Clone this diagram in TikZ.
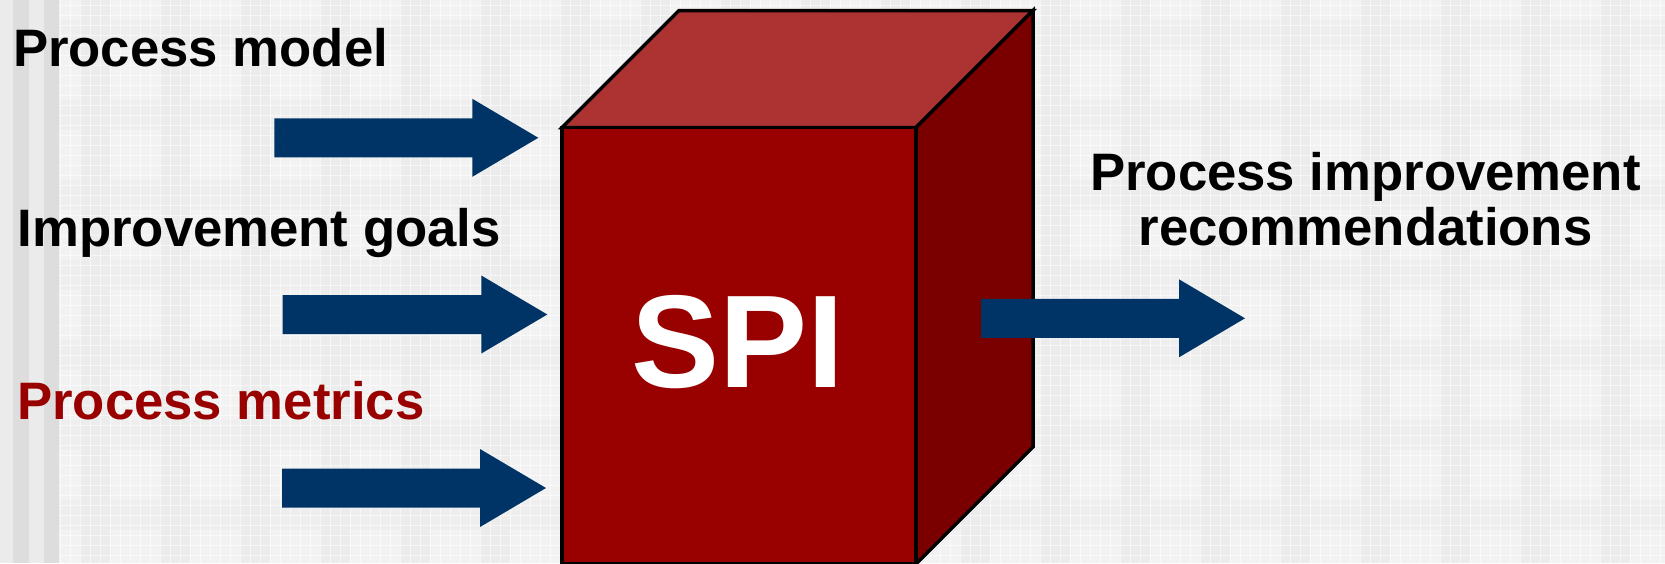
\documentclass[tikz,border=0pt]{standalone}
\usepackage{fontspec}
\setmainfont{Liberation Sans}
\usetikzlibrary{calc}

\definecolor{navy}{RGB}{0,51,102}
\definecolor{spired}{RGB}{153,0,0}
\definecolor{spitop}{RGB}{173,51,51}
\definecolor{spiside}{RGB}{122,0,0}
\definecolor{bgbase}{RGB}{242,242,242}
\definecolor{bgband}{RGB}{236,236,236}
\definecolor{stripelight}{RGB}{235,235,235}
\definecolor{stripedark}{RGB}{221,221,221}

% block arrow from a start point (middle of the tail) to the tip
\newcommand\navyarrow[2]{%
  \fill[blockarrow]
    ($(#1)+(0,-19.5)$) -- ($(#2)+(-66,-19.5)$) -- ($(#2)+(-66,-39)$) --
    (#2) -- ($(#2)+(-66,39)$) -- ($(#2)+(-66,19.5)$) -- ($(#1)+(0,19.5)$) -- cycle;}

\begin{document}
\begin{tikzpicture}[x=1pt,y=-1pt,
  lbl/.style={inner sep=0pt, font=\fontsize{52.7}{52.7}\selectfont\bfseries},
  face/.style={draw=black, line width=3.5pt, line join=miter},
  blockarrow/.style={fill=navy}]

\useasboundingbox (0,0) rectangle (1665,563);

% textured backdrop
\fill[bgbase] (0,0) rectangle (1665,563);
\foreach \x in {80,160,...,1640}
  \fill[bgband] (\x,0) rectangle ++(30,563);
\foreach \y in {20,100,...,560}
  \fill[bgband, opacity=0.5] (0,\y) rectangle ++(1665,30);
\foreach \x in {60,70,...,1660}
  \draw[white, opacity=0.55, line width=0.8pt] (\x,0) -- (\x,563);
\foreach \y in {5,15,...,560}
  \draw[white, opacity=0.55, line width=0.8pt] (0,\y) -- (1665,\y);

% stripes on the left margin
\fill[stripelight] (0,0) rectangle (13,563);
\fill[stripedark] (13,0) rectangle (29,563);
\fill[stripelight] (29,0) rectangle (44,563);
\fill[stripedark] (44,0) rectangle (59,563);

% the SPI box
\coordinate (ftl) at (562,127.5);
\coordinate (ftr) at (916,127.5);
\coordinate (fbr) at (916,564);
\coordinate (fbl) at (562,564);
\coordinate (btl) at (679,10.5);
\coordinate (btr) at (1033,10.5);
\coordinate (bbr) at (1033,447);

\filldraw[face, fill=spitop]  (ftl) -- (btl) -- (btr) -- (ftr) -- cycle;
\filldraw[face, fill=spiside] (ftr) -- (btr) -- (bbr) -- (fbr) -- cycle;
\filldraw[face, fill=spired]  (ftl) -- (ftr) -- (fbr) -- (fbl) -- cycle;

\node[inner sep=0pt, anchor=base, text=white,
      font=\fontsize{132}{132}\selectfont\bfseries] (spi) at (738,387) {SPI};

% inputs
\node[lbl, anchor=base west] (model) at (12.9,66.7) {Process model};
\node[lbl, anchor=base west] (goals) at (17.4,246) {Improvement goals};
\node[lbl, anchor=base west, text=spired] (metrics) at (17,419.3) {Process metrics};

\coordinate (in1s) at (274.3,137.8);
\coordinate (in1t) at (538.3,137.8);
\coordinate (in2s) at (282.7,314.5);
\coordinate (in2t) at (547.3,314.5);
\coordinate (in3s) at (282,488);
\coordinate (in3t) at (546,488);
\navyarrow{in1s}{in1t}
\navyarrow{in2s}{in2t}
\navyarrow{in3s}{in3t}

% output
\coordinate (outs) at (981,318.3);
\coordinate (outt) at (1245,318.3);
\navyarrow{outs}{outt}

\node[lbl, anchor=base] (rec1) at (1365.5,190) {Process improvement};
\node[lbl, anchor=base] (rec2) at (1365.5,245) {recommendations};

\end{tikzpicture}
\end{document}
